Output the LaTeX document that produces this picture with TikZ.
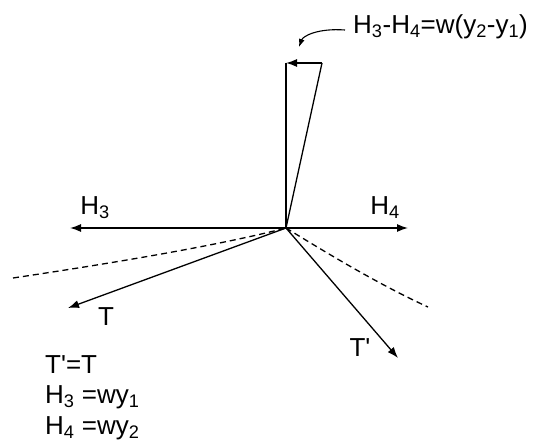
\documentclass[tikz,border=0pt]{standalone}
\usepackage{fontspec}
\setmainfont{Liberation Sans}
\usetikzlibrary{arrows.meta}
\begin{document}
\begin{tikzpicture}[x=1pt,y=-1pt,
  vec/.style={line width=1.3pt,-{Latex[length=11pt,width=8pt]}},
  dashline/.style={line width=1.3pt,dash pattern=on 6pt off 4pt},
  lbl/.style={font=\fontsize{26}{30}\selectfont,inner sep=0pt}]
\useasboundingbox (0,0) rectangle (533,446);
\coordinate (O) at (286,228);
\coordinate (H3e) at (70,228);
\coordinate (H4e) at (408,228);
\coordinate (Te) at (68,308);
\coordinate (Tpe) at (398,358);
\coordinate (top) at (286,63);
\coordinate (topr) at (322,63);
\coordinate (dl) at (13,278);
\coordinate (dr) at (428,307);
\coordinate (ca) at (345,30);
\coordinate (cb) at (299,47);
% vectors
\draw[vec] (O) -- (H3e);
\draw[vec] (O) -- (H4e);
\draw[vec] (O) -- (Te);
\draw[vec] (O) -- (Tpe);
\draw[line width=1.3pt] (O) -- (top);
\draw[line width=1.3pt] (O) -- (topr);
\draw[vec] (topr) -- (top);
% dashed curves
\draw[dashline] (dl) .. controls (120,262) and (220,245) .. (O);
\draw[dashline] (O) .. controls (330,255) and (380,285) .. (dr);
% curved pointer
\draw[line width=1.1pt,-{Latex[length=8pt,width=6pt]}] (ca) .. controls (318,28) and (303,36) .. (cb);
% labels
\node[lbl,anchor=west] (eq) at (353,27) {H\textsubscript{3}-H\textsubscript{4}=w(y\textsubscript{2}-y\textsubscript{1})};
\node[lbl] (lH3) at (95,208) {H\textsubscript{3}};
\node[lbl] (lH4) at (385,208) {H\textsubscript{4}};
\node[lbl] (lT) at (106,317) {T};
\node[lbl] (lTp) at (360,348) {T\textquotesingle};
\node[lbl,anchor=west] (e1) at (45,365) {T\textquotesingle=T};
\node[lbl,anchor=west] (e2) at (45,397) {H\textsubscript{3} =wy\textsubscript{1}};
\node[lbl,anchor=west] (e3) at (45,428) {H\textsubscript{4} =wy\textsubscript{2}};
\end{tikzpicture}
\end{document}
